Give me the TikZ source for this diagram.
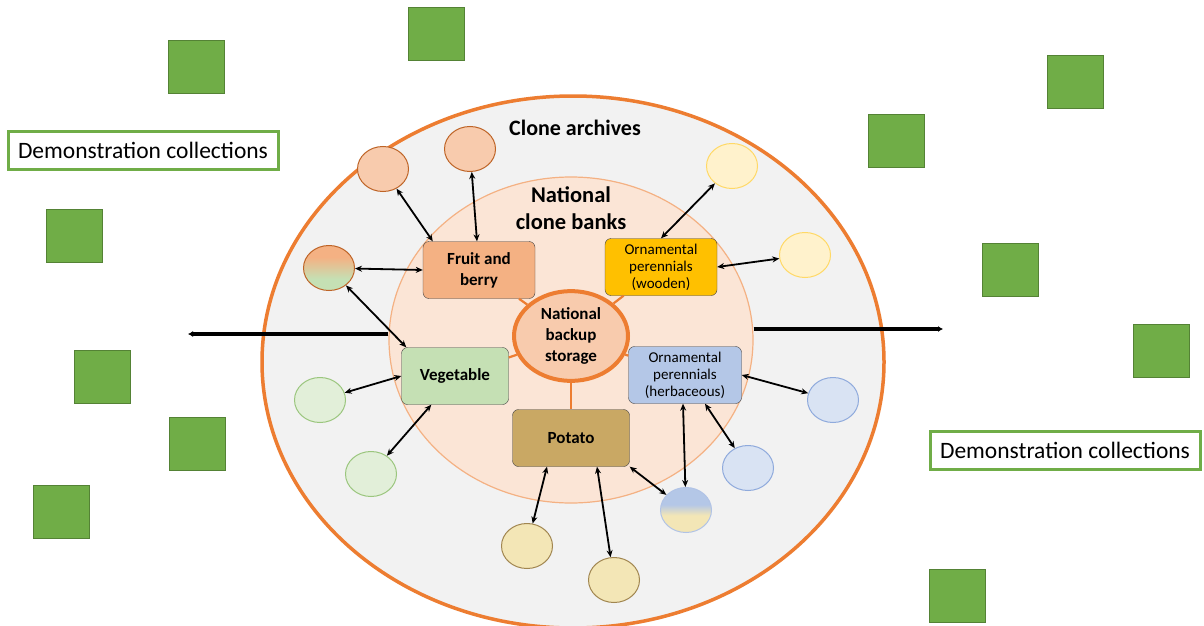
\documentclass[tikz,border=0pt]{standalone}
\usepackage{fontspec}
\setmainfont{Carlito}
\usetikzlibrary{arrows.meta,shapes.geometric}
\definecolor{archfill}{HTML}{F2F2F2}
\definecolor{archedge}{HTML}{ED7D31}
\definecolor{bankfill}{HTML}{FBE5D6}
\definecolor{bankedge}{HTML}{F4B183}
\definecolor{fieldgreen}{HTML}{70AD47}
\definecolor{fieldedge}{HTML}{548235}
\definecolor{fruitfill}{HTML}{F4B183}
\definecolor{woodfill}{HTML}{FFC000}
\definecolor{vegfill}{HTML}{C5E0B4}
\definecolor{herbfill}{HTML}{B4C7E7}
\definecolor{herbedge}{HTML}{8FAADC}
\definecolor{potfill}{HTML}{C9A864}
\definecolor{potseed}{HTML}{F3E6B6}
\definecolor{woodseed}{HTML}{FFF2CC}
\definecolor{woodedge}{HTML}{FFD966}
\definecolor{backfill}{HTML}{F8CBAD}
\pgfdeclareverticalshading{herbpot}{100bp}{color(0bp)=(potseed); color(44bp)=(potseed);
  color(56bp)=(herbfill); color(100bp)=(herbfill)}
\pgfdeclareverticalshading{fruitveg}{100bp}{color(0bp)=(vegfill); color(38bp)=(vegfill);
  color(62bp)=(fruitfill); color(100bp)=(fruitfill)}
\begin{document}
\begin{tikzpicture}[x=1pt,y=-1pt,
field/.style={fill=fieldgreen,draw=fieldedge,minimum width=56pt,minimum height=53pt,inner sep=0pt},
demo/.style={draw=fieldgreen,line width=3pt,fill=white,minimum width=270pt,minimum height=38pt,inner sep=0pt,font=\fontsize{23.5}{27}\selectfont},
box/.style={draw=black!75,rounded corners=6pt,minimum width=112pt,minimum height=57pt,align=center,inner sep=2pt},
group/.style={font=\fontsize{17}{21}\selectfont\bfseries},
orna/.style={font=\fontsize{15}{17}\selectfont},
seed/.style={ellipse,minimum width=51pt,minimum height=45pt,inner sep=0pt,line width=1pt},
link/.style={{Stealth[length=7pt,width=6pt]}-{Stealth[length=7pt,width=6pt]},line width=1.8pt},
spoke/.style={draw=archedge,line width=2.2pt},
feed/.style={-{Latex[length=5pt,width=6pt]},line width=3.6pt},
]
\useasboundingbox[fill=white] (0,0) rectangle (1204,626);
% clone archives and national clone banks
\path[fill=archfill,draw=archedge,line width=3.5pt] (573,362) ellipse [x radius=311,y radius=266];
\node[ellipse,fill=bankfill,draw=bankedge,line width=1.2pt,minimum width=364pt,minimum height=326pt] (bank) at (571,340) {};
\node[font=\fontsize{22}{26}\selectfont\bfseries] (archive) at (575,128) {Clone archives};
\node[font=\fontsize{22.5}{27}\selectfont\bfseries,align=center] (banks) at (571,208) {National\\clone banks};
% demonstration fields
\foreach \p [count=\i] in {(196,67),(436,34),(1075,82),(896,141),(74,236),(1010,270),
    (102,377),(1161,351),(197,444),(61,512),(957,596)}
  \node[field] (f\i) at \p {};
\node[demo] (demoL) at (143,150) {Demonstration collections};
\node[demo] (demoR) at (1065,450) {Demonstration collections};
\coordinate (lend) at (188,334);
\coordinate (rend) at (943,329);
\draw[feed] (bank.west |- lend) -- (lend);
\draw[feed] (bank.east |- rend) -- (rend);
% crop groups
\node[ellipse,fill=backfill,draw=archedge,line width=4pt,minimum width=114pt,minimum height=84pt,
  align=center,group] (back) at (571,336) {National\\backup\\storage};
\node[box,group,fill=fruitfill] (fruit) at (479,270) {Fruit and\\berry};
\node[box,orna,fill=woodfill] (wood) at (661,267) {Ornamental\\perennials\\(wooden)};
\node[box,group,fill=vegfill,minimum width=107pt] (veg) at (455,376) {Vegetable};
\node[box,orna,fill=herbfill,minimum width=113pt] (herb) at (685,375) {Ornamental\\perennials\\(herbaceous)};
\node[box,group,fill=potfill,minimum width=117pt] (pot) at (571,438) {Potato};
\foreach \g in {fruit,wood,veg,herb,pot}
  \draw[spoke] (back) -- (\g);
% local collections
\node[seed,fill=backfill,draw=archedge!80!black] (o1) at (383,169) {};
\node[seed,fill=backfill,draw=archedge!80!black] (o2) at (470,149) {};
\node[seed,shading=fruitveg,draw=archedge!80!black] (og) at (329,268) {};
\node[seed,fill=woodseed,draw=woodedge] (y1) at (732,166) {};
\node[seed,fill=woodseed,draw=woodedge] (y2) at (805,255) {};
\node[seed,fill=vegfill!50,draw=fieldgreen!70] (g1) at (320,400) {};
\node[seed,fill=vegfill!50,draw=fieldgreen!70] (g2) at (371,474) {};
\node[seed,fill=potseed,draw=potfill!80!black] (p1) at (527,546) {};
\node[seed,fill=potseed,draw=potfill!80!black] (p2) at (614,580) {};
\node[seed,fill=herbfill!50,draw=herbedge] (b1) at (833,400) {};
\node[seed,fill=herbfill!50,draw=herbedge] (b2) at (748,468) {};
\node[seed,shading=herbpot,draw=herbedge!70] (bg) at (686,510) {};
% exchange
\draw[link] ([xshift=10pt]fruit.north west) -- (o1);
\draw[link] ([xshift=-2pt]fruit.north) -- (o2);
\draw[link] (fruit.west) -- (og);
\draw[link] (og) -- ([xshift=5pt]veg.north west);
\draw[link] (wood.north) -- (y1);
\draw[link] (wood.east) -- (y2);
\draw[link] (veg.west) -- (g1);
\draw[link] ([xshift=30pt]veg.south west) -- (g2);
\draw[link] ([xshift=-24pt]pot.south) -- (p1);
\draw[link] ([xshift=26pt]pot.south) -- (p2);
\draw[link] (pot.south east) -- (bg);
\draw[link] ([xshift=-2pt]herb.south) -- (bg);
\draw[link] ([xshift=20pt]herb.south) -- (b2);
\draw[link] (herb.east) -- (b1);
\end{tikzpicture}
\end{document}
